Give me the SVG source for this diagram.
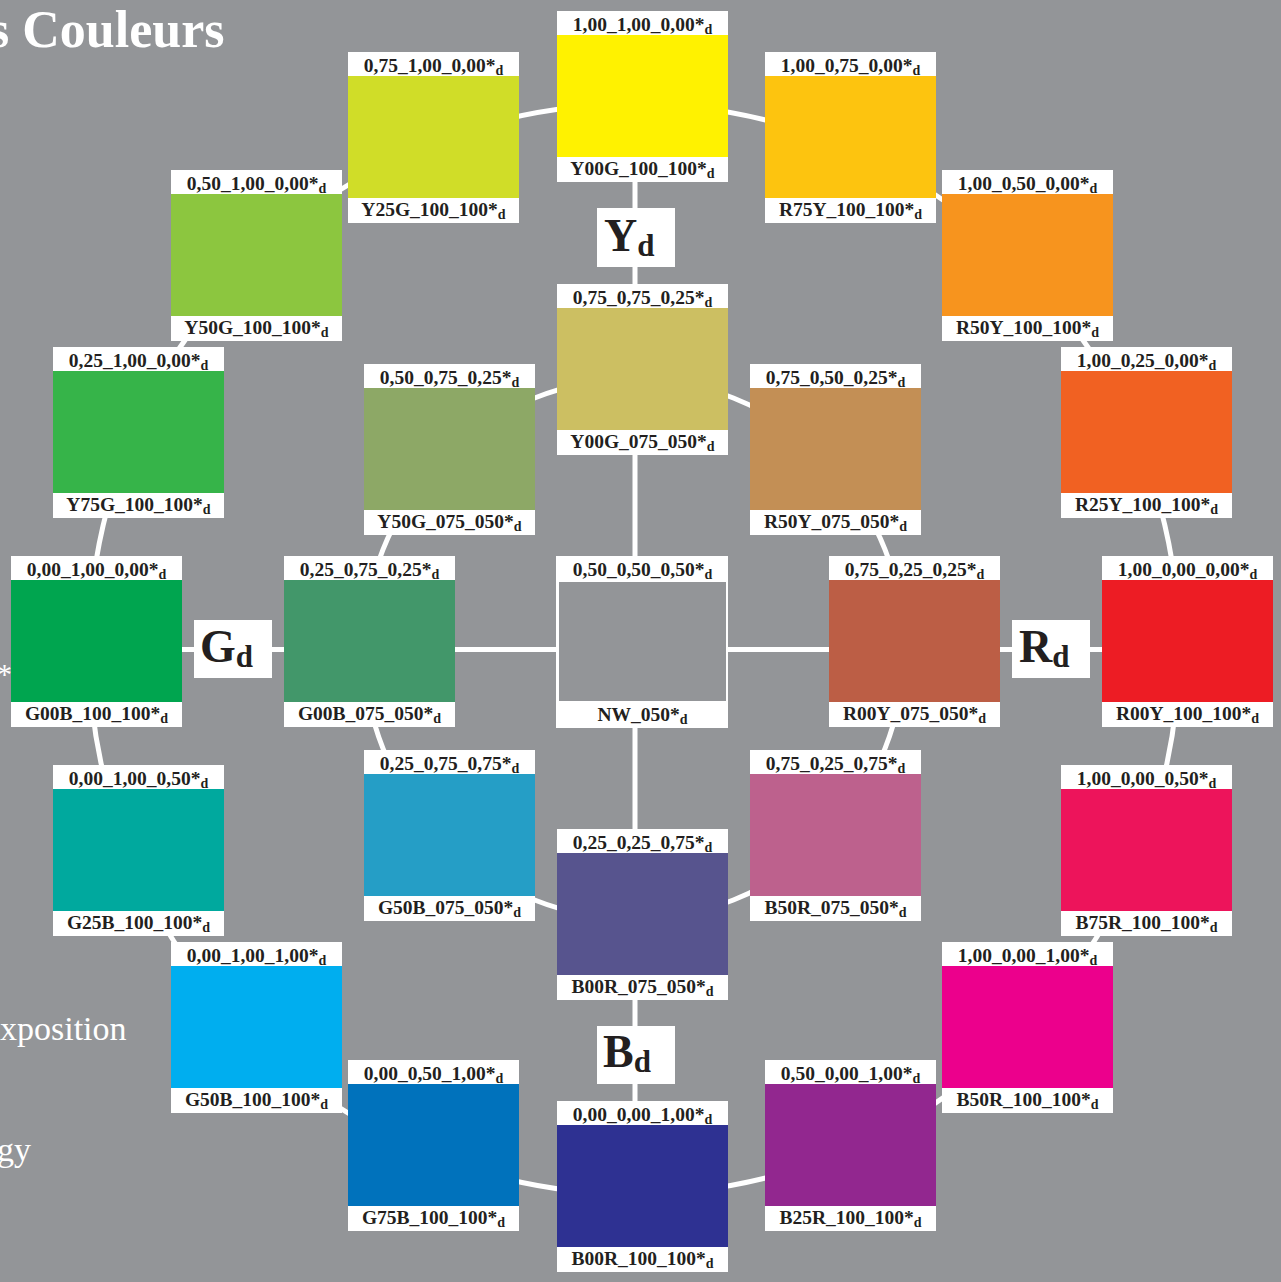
<svg xmlns="http://www.w3.org/2000/svg" width="1281" height="1282" viewBox="0 0 1281 1282">
<style>
.bg{fill:#939598}
.wb{fill:#ffffff}
.lbl{font-family:"Liberation Serif","Times New Roman",serif;font-weight:bold;font-size:19.5px;fill:#231f20;text-anchor:middle}
.sub{font-size:14px}
.big{font-family:"Liberation Serif","Times New Roman",serif;font-weight:bold;font-size:46px;fill:#231f20}
.bigsub{font-size:31px}
.conn{fill:none;stroke:#ffffff;stroke-width:5}
.side{font-family:"Liberation Serif","Times New Roman",serif;fill:#ffffff}
</style>
<rect class="bg" x="0" y="0" width="1281" height="1282"/>
<text class="side" x="-11" y="47" font-size="52" font-weight="bold">s Couleurs</text>
<text class="side" x="-3" y="684" font-size="30">*</text>
<text class="side" x="0" y="1040" font-size="34">xposition</text>
<text class="side" x="-3" y="1161" font-size="34">gy</text>
<g id="connectors">
<circle class="conn" cx="634" cy="649" r="545"/>
<circle class="conn" cx="634" cy="649" r="270"/>
<line class="conn" x1="635" y1="100" x2="635" y2="1195"/>
<line class="conn" x1="85" y1="649.5" x2="1185" y2="649.5"/>
</g>
<g id="axis-Yd"><rect class="wb" x="597" y="208" width="78" height="59"/><text class="big" x="604" y="251">Y<tspan class="bigsub" dy="5">d</tspan></text></g>
<g id="axis-Gd"><rect class="wb" x="194" y="620" width="78" height="58"/><text class="big" x="200" y="662">G<tspan class="bigsub" dy="5">d</tspan></text></g>
<g id="axis-Rd"><rect class="wb" x="1012" y="620" width="78" height="58"/><text class="big" x="1019" y="662">R<tspan class="bigsub" dy="5">d</tspan></text></g>
<g id="axis-Bd"><rect class="wb" x="597" y="1026" width="78" height="58"/><text class="big" x="603" y="1067">B<tspan class="bigsub" dy="5">d</tspan></text></g>

<g id="Y00G_100_100"><rect class="wb" x="557" y="11" width="171" height="171"/><rect x="557" y="35" width="171" height="122" fill="#FFF200"/><text class="lbl" x="642.5" y="30.5">1,00_1,00_0,00*<tspan class="sub" dy="3">d</tspan></text><text class="lbl" x="642.5" y="175">Y00G_100_100*<tspan class="sub" dy="3">d</tspan></text></g>
<g id="Y25G_100_100"><rect class="wb" x="348" y="52" width="171" height="171"/><rect x="348" y="76" width="171" height="122" fill="#D0DD28"/><text class="lbl" x="433.5" y="71.5">0,75_1,00_0,00*<tspan class="sub" dy="3">d</tspan></text><text class="lbl" x="433.5" y="216">Y25G_100_100*<tspan class="sub" dy="3">d</tspan></text></g>
<g id="R75Y_100_100"><rect class="wb" x="765" y="52" width="171" height="171"/><rect x="765" y="76" width="171" height="122" fill="#FDC40F"/><text class="lbl" x="850.5" y="71.5">1,00_0,75_0,00*<tspan class="sub" dy="3">d</tspan></text><text class="lbl" x="850.5" y="216">R75Y_100_100*<tspan class="sub" dy="3">d</tspan></text></g>
<g id="Y50G_100_100"><rect class="wb" x="171" y="170" width="171" height="171"/><rect x="171" y="194" width="171" height="122" fill="#8CC63F"/><text class="lbl" x="256.5" y="189.5">0,50_1,00_0,00*<tspan class="sub" dy="3">d</tspan></text><text class="lbl" x="256.5" y="334">Y50G_100_100*<tspan class="sub" dy="3">d</tspan></text></g>
<g id="R50Y_100_100"><rect class="wb" x="942" y="170" width="171" height="171"/><rect x="942" y="194" width="171" height="122" fill="#F7941E"/><text class="lbl" x="1027.5" y="189.5">1,00_0,50_0,00*<tspan class="sub" dy="3">d</tspan></text><text class="lbl" x="1027.5" y="334">R50Y_100_100*<tspan class="sub" dy="3">d</tspan></text></g>
<g id="Y75G_100_100"><rect class="wb" x="53" y="347" width="171" height="171"/><rect x="53" y="371" width="171" height="122" fill="#36B449"/><text class="lbl" x="138.5" y="366.5">0,25_1,00_0,00*<tspan class="sub" dy="3">d</tspan></text><text class="lbl" x="138.5" y="511">Y75G_100_100*<tspan class="sub" dy="3">d</tspan></text></g>
<g id="R25Y_100_100"><rect class="wb" x="1061" y="347" width="171" height="171"/><rect x="1061" y="371" width="171" height="122" fill="#F16122"/><text class="lbl" x="1146.5" y="366.5">1,00_0,25_0,00*<tspan class="sub" dy="3">d</tspan></text><text class="lbl" x="1146.5" y="511">R25Y_100_100*<tspan class="sub" dy="3">d</tspan></text></g>
<g id="G00B_100_100"><rect class="wb" x="11" y="556" width="171" height="171"/><rect x="11" y="580" width="171" height="122" fill="#00A54F"/><text class="lbl" x="96.5" y="575.5">0,00_1,00_0,00*<tspan class="sub" dy="3">d</tspan></text><text class="lbl" x="96.5" y="720">G00B_100_100*<tspan class="sub" dy="3">d</tspan></text></g>
<g id="R00Y_100_100"><rect class="wb" x="1102" y="556" width="171" height="171"/><rect x="1102" y="580" width="171" height="122" fill="#ED1C24"/><text class="lbl" x="1187.5" y="575.5">1,00_0,00_0,00*<tspan class="sub" dy="3">d</tspan></text><text class="lbl" x="1187.5" y="720">R00Y_100_100*<tspan class="sub" dy="3">d</tspan></text></g>
<g id="G25B_100_100"><rect class="wb" x="53" y="765" width="171" height="171"/><rect x="53" y="789" width="171" height="122" fill="#00A99E"/><text class="lbl" x="138.5" y="784.5">0,00_1,00_0,50*<tspan class="sub" dy="3">d</tspan></text><text class="lbl" x="138.5" y="929">G25B_100_100*<tspan class="sub" dy="3">d</tspan></text></g>
<g id="B75R_100_100"><rect class="wb" x="1061" y="765" width="171" height="171"/><rect x="1061" y="789" width="171" height="122" fill="#ED145B"/><text class="lbl" x="1146.5" y="784.5">1,00_0,00_0,50*<tspan class="sub" dy="3">d</tspan></text><text class="lbl" x="1146.5" y="929">B75R_100_100*<tspan class="sub" dy="3">d</tspan></text></g>
<g id="G50B_100_100"><rect class="wb" x="171" y="942" width="171" height="171"/><rect x="171" y="966" width="171" height="122" fill="#00AEEF"/><text class="lbl" x="256.5" y="961.5">0,00_1,00_1,00*<tspan class="sub" dy="3">d</tspan></text><text class="lbl" x="256.5" y="1106">G50B_100_100*<tspan class="sub" dy="3">d</tspan></text></g>
<g id="B50R_100_100"><rect class="wb" x="942" y="942" width="171" height="171"/><rect x="942" y="966" width="171" height="122" fill="#EC008C"/><text class="lbl" x="1027.5" y="961.5">1,00_0,00_1,00*<tspan class="sub" dy="3">d</tspan></text><text class="lbl" x="1027.5" y="1106">B50R_100_100*<tspan class="sub" dy="3">d</tspan></text></g>
<g id="G75B_100_100"><rect class="wb" x="348" y="1060" width="171" height="171"/><rect x="348" y="1084" width="171" height="122" fill="#0072BC"/><text class="lbl" x="433.5" y="1079.5">0,00_0,50_1,00*<tspan class="sub" dy="3">d</tspan></text><text class="lbl" x="433.5" y="1224">G75B_100_100*<tspan class="sub" dy="3">d</tspan></text></g>
<g id="B25R_100_100"><rect class="wb" x="765" y="1060" width="171" height="171"/><rect x="765" y="1084" width="171" height="122" fill="#92278F"/><text class="lbl" x="850.5" y="1079.5">0,50_0,00_1,00*<tspan class="sub" dy="3">d</tspan></text><text class="lbl" x="850.5" y="1224">B25R_100_100*<tspan class="sub" dy="3">d</tspan></text></g>
<g id="B00R_100_100"><rect class="wb" x="557" y="1101" width="171" height="171"/><rect x="557" y="1125" width="171" height="122" fill="#2E3192"/><text class="lbl" x="642.5" y="1120.5">0,00_0,00_1,00*<tspan class="sub" dy="3">d</tspan></text><text class="lbl" x="642.5" y="1265">B00R_100_100*<tspan class="sub" dy="3">d</tspan></text></g>

<g id="Y00G_075_050"><rect class="wb" x="557" y="284" width="171" height="171"/><rect x="557" y="308" width="171" height="122" fill="#CCBF62"/><text class="lbl" x="642.5" y="303.5">0,75_0,75_0,25*<tspan class="sub" dy="3">d</tspan></text><text class="lbl" x="642.5" y="448">Y00G_075_050*<tspan class="sub" dy="3">d</tspan></text></g>
<g id="Y50G_075_050"><rect class="wb" x="364" y="364" width="171" height="171"/><rect x="364" y="388" width="171" height="122" fill="#8DA866"/><text class="lbl" x="449.5" y="383.5">0,50_0,75_0,25*<tspan class="sub" dy="3">d</tspan></text><text class="lbl" x="449.5" y="528">Y50G_075_050*<tspan class="sub" dy="3">d</tspan></text></g>
<g id="R50Y_075_050"><rect class="wb" x="750" y="364" width="171" height="171"/><rect x="750" y="388" width="171" height="122" fill="#C38F55"/><text class="lbl" x="835.5" y="383.5">0,75_0,50_0,25*<tspan class="sub" dy="3">d</tspan></text><text class="lbl" x="835.5" y="528">R50Y_075_050*<tspan class="sub" dy="3">d</tspan></text></g>
<g id="G00B_075_050"><rect class="wb" x="284" y="556" width="171" height="171"/><rect x="284" y="580" width="171" height="122" fill="#42976A"/><text class="lbl" x="369.5" y="575.5">0,25_0,75_0,25*<tspan class="sub" dy="3">d</tspan></text><text class="lbl" x="369.5" y="720">G00B_075_050*<tspan class="sub" dy="3">d</tspan></text></g>
<g id="R00Y_075_050"><rect class="wb" x="829" y="556" width="171" height="171"/><rect x="829" y="580" width="171" height="122" fill="#BC5E45"/><text class="lbl" x="914.5" y="575.5">0,75_0,25_0,25*<tspan class="sub" dy="3">d</tspan></text><text class="lbl" x="914.5" y="720">R00Y_075_050*<tspan class="sub" dy="3">d</tspan></text></g>
<g id="G50B_075_050"><rect class="wb" x="364" y="750" width="171" height="171"/><rect x="364" y="774" width="171" height="122" fill="#259EC6"/><text class="lbl" x="449.5" y="769.5">0,25_0,75_0,75*<tspan class="sub" dy="3">d</tspan></text><text class="lbl" x="449.5" y="914">G50B_075_050*<tspan class="sub" dy="3">d</tspan></text></g>
<g id="B50R_075_050"><rect class="wb" x="750" y="750" width="171" height="171"/><rect x="750" y="774" width="171" height="122" fill="#BD618D"/><text class="lbl" x="835.5" y="769.5">0,75_0,25_0,75*<tspan class="sub" dy="3">d</tspan></text><text class="lbl" x="835.5" y="914">B50R_075_050*<tspan class="sub" dy="3">d</tspan></text></g>
<g id="B00R_075_050"><rect class="wb" x="557" y="829" width="171" height="171"/><rect x="557" y="853" width="171" height="122" fill="#57548E"/><text class="lbl" x="642.5" y="848.5">0,25_0,25_0,75*<tspan class="sub" dy="3">d</tspan></text><text class="lbl" x="642.5" y="993">B00R_075_050*<tspan class="sub" dy="3">d</tspan></text></g>
<g id="NW_050"><rect class="wb" x="556" y="556" width="172" height="172"/><rect class="bg" x="559" y="582" width="167" height="119"/><text class="lbl" x="642.5" y="575.5">0,50_0,50_0,50*<tspan class="sub" dy="3">d</tspan></text><text class="lbl" x="642.5" y="721">NW_050*<tspan class="sub" dy="3">d</tspan></text></g>
</svg>
